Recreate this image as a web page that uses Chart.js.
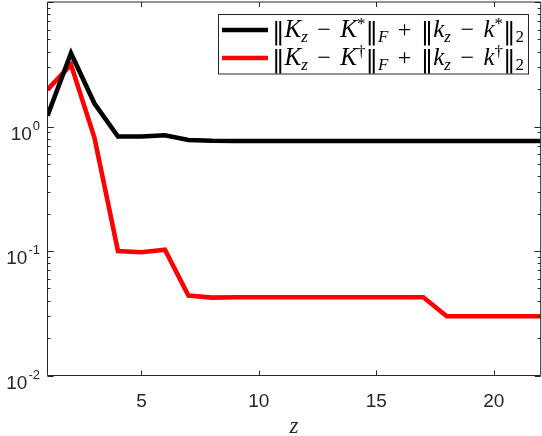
<!DOCTYPE html>
<html>
<head>
<meta charset="utf-8">
<title>Error vs z</title>
<script src="https://cdn.jsdelivr.net/npm/chart.js"></script>
<style>
  body { margin: 0; background: #fff; }
  canvas { display: block; }
</style>
</head>
<body>
<canvas id="errChart" width="542" height="436"></canvas>
<script>
// data
const zValues = [1, 2, 3, 4, 5, 6, 7, 8, 9, 10, 11, 12, 13, 14, 15, 16, 17, 18, 19, 20, 21, 22];
const errStar = [1.22, 3.88, 1.53, 0.83, 0.83, 0.85, 0.78, 0.768, 0.765, 0.765, 0.765, 0.765, 0.765,
                 0.765, 0.765, 0.765, 0.765, 0.765, 0.765, 0.765, 0.765, 0.765];
const errDagger = [1.98, 3.14, 0.81, 0.100, 0.0978, 0.1025, 0.0439, 0.0422, 0.0425, 0.0425, 0.0425,
                   0.0425, 0.0425, 0.0425, 0.0425, 0.0425, 0.0425, 0.0299, 0.0299, 0.0299, 0.0299, 0.0299];
const xTickValues = [5, 10, 15, 20];
const yDecades = [-2, -1, 0];

// legend text as [text, style] pieces (math-like)
const legendStar = [['‖','bar'],['K','i'],['z','sub'],['−','op'],['K','i'],['*','sup'],['‖','bar'],['F','sub'],
  ['+','op'],['‖','bar'],['k','i'],['z','sub'],['−','op'],['k','i'],['*','sup'],['‖','bar'],['2','subn']];
const legendDagger = [['‖','bar'],['K','i'],['z','sub'],['−','op'],['K','i'],['†','sup'],['‖','bar'],['F','sub'],
  ['+','op'],['‖','bar'],['k','i'],['z','sub'],['−','op'],['k','i'],['†','sup'],['‖','bar'],['2','subn']];

const axisColor = '#262626';
const serif = '"Liberation Serif", "DejaVu Serif", serif';
const sans = '"Liberation Sans", Arial, sans-serif';
const legendTextWidth = 252;

function pieceFont(st) {
  if (st === 'i') return 'italic 25px ' + serif;
  if (st === 'sub') return 'italic 17px ' + serif;
  if (st === 'subn' || st === 'sup') return '17px ' + serif;
  if (st === 'bar') return '25px "DejaVu Serif", serif';
  return '24px ' + serif;
}
function pieceDy(st) {
  if (st === 'sub' || st === 'subn') return 5;
  if (st === 'sup') return -8;
  if (st === 'bar') return 2;
  return 0;
}
function drawRich(ctx, pieces, x, base) {
  ctx.textBaseline = 'alphabetic';
  ctx.textAlign = 'left';
  // spread the spare room over the operator gaps, like TeX spacing
  let natural = 0, gaps = 0;
  for (const [t, st] of pieces) {
    ctx.font = pieceFont(st);
    natural += ctx.measureText(t).width;
    if (st === 'op') gaps += 2;
  }
  const gap = Math.max(1, (legendTextWidth - natural) / gaps);
  for (const [t, st] of pieces) {
    ctx.font = pieceFont(st);
    if (st === 'op') x += gap;
    ctx.fillText(t, x, base + pieceDy(st));
    x += ctx.measureText(t).width;
    if (st === 'op') x += gap;
  }
}

const frame = {
  id: 'frame',
  afterDraw(chart) {
    const { ctx, chartArea: a, scales: { x, y } } = chart;
    ctx.save();
    ctx.strokeStyle = axisColor;
    ctx.lineWidth = 1;
    ctx.beginPath();
    ctx.rect(a.left, a.top, a.right - a.left, a.bottom - a.top);
    xTickValues.forEach(v => {
      const px = Math.round(x.getPixelForValue(v)) + 0.5;
      ctx.moveTo(px, a.bottom); ctx.lineTo(px, a.bottom - 5);
      ctx.moveTo(px, a.top); ctx.lineTo(px, a.top + 5);
    });
    for (let e = -2; e <= 0; e++) {
      for (let m = 1; m <= 10; m++) {
        const py = Math.round(y.getPixelForValue(m * Math.pow(10, e))) + 0.5;
        const len = (m === 1 || m === 10) ? 6 : 3;
        ctx.moveTo(a.left, py); ctx.lineTo(a.left + len, py);
        ctx.moveTo(a.right, py); ctx.lineTo(a.right - len, py);
      }
    }
    ctx.stroke();

    // y tick labels 10^e
    ctx.fillStyle = axisColor;
    ctx.textBaseline = 'alphabetic';
    ctx.textAlign = 'left';
    yDecades.forEach(e => {
      const py = y.getPixelForValue(Math.pow(10, e));
      const exp = e < 0 ? '-' + (-e) : String(e);
      ctx.font = '13px ' + sans;
      const we = ctx.measureText(exp).width;
      ctx.font = '19px ' + sans;
      const wb = ctx.measureText('10').width;
      const right = 40;
      ctx.fillText('10', right - we - wb - 1, py + 13);
      ctx.font = '13px ' + sans;
      ctx.fillText(exp, right - we, py + 3);
    });

    // legend box
    const bx = 218.5, by = 14.5, bw = 310, bh = 59.5;
    ctx.fillStyle = '#fff';
    ctx.fillRect(bx, by, bw, bh);
    ctx.strokeRect(bx, by, bw, bh);
    const rows = [[legendStar, '#000000', 30], [legendDagger, '#ff0000', 58]];
    rows.forEach(([pieces, col, ly]) => {
      ctx.strokeStyle = col;
      ctx.lineWidth = 4.5;
      ctx.beginPath();
      ctx.moveTo(222, ly); ctx.lineTo(268, ly);
      ctx.stroke();
      ctx.fillStyle = '#000';
      drawRich(ctx, pieces, 272, ly + 6.5);
    });
    ctx.restore();
  }
};

new Chart(document.getElementById('errChart'), {
  type: 'line',
  data: {
    labels: zValues,
    datasets: [
      { label: 'star', data: zValues.map((z, i) => ({ x: z, y: errStar[i] })), borderColor: '#000000' },
      { label: 'dagger', data: zValues.map((z, i) => ({ x: z, y: errDagger[i] })), borderColor: '#ff0000' }
    ]
  },
  options: {
    responsive: false,
    animation: false,
    devicePixelRatio: 1,
    layout: { padding: { top: 2, right: 1.3, left: 0, bottom: 0 } },
    elements: {
      line: { borderWidth: 4.6, tension: 0, fill: false, borderJoinStyle: 'miter', borderCapStyle: 'butt' },
      point: { radius: 0 }
    },
    plugins: { legend: { display: false }, tooltip: { enabled: false } },
    scales: {
      x: {
        type: 'linear', min: 1, max: 22,
        afterBuildTicks: s => { s.ticks = xTickValues.map(v => ({ value: v })); },
        afterFit: s => { s.height = 60.5; },
        grid: { display: false, drawTicks: false },
        border: { display: false },
        ticks: { font: { family: sans, size: 19 }, color: axisColor, padding: 15, maxRotation: 0 },
        title: { display: true, text: 'z', color: axisColor, padding: { top: 0, bottom: -5 },
                 font: { family: serif, style: 'italic', size: 23 } }
      },
      y: {
        type: 'logarithmic', min: 0.01, max: 10,
        afterFit: s => { s.width = 47.5; },
        grid: { display: false, drawTicks: false },
        border: { display: false },
        ticks: { display: false }
      }
    }
  },
  plugins: [frame]
});
</script>
</body>
</html>
